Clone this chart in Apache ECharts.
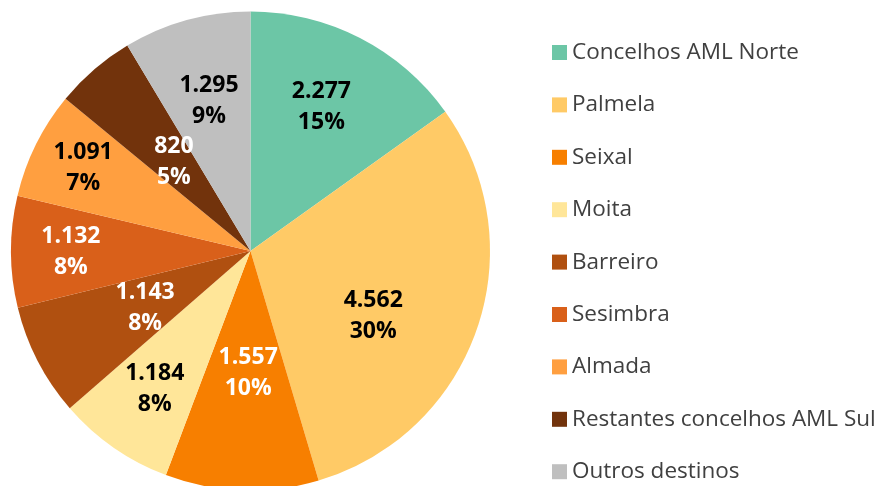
<!DOCTYPE html>
<html>
<head>
<meta charset="utf-8">
<script src="https://cdn.jsdelivr.net/npm/echarts@6/dist/echarts.min.js"></script>
<style>
html,body{margin:0;padding:0;background:#fff;}
#chart{width:882px;height:486px;}
</style>
</head>
<body>
<div id="chart"></div>
<script>
// ---- data ----
const categories = ["Concelhos AML Norte","Palmela","Seixal","Moita","Barreiro","Sesimbra","Almada","Restantes concelhos AML Sul","Outros destinos"];
const values = [2277, 4562, 1557, 1184, 1143, 1132, 1091, 820, 1295];

// ---- styling ----
const colors = ["#6CC6A6","#FFCA66","#F77F00","#FFE699","#B05010","#D9601A","#FF9F40","#72330C","#BFBFBF"];
const labelColors = ["#000","#000","#fff","#000","#fff","#fff","#000","#fff","#000"];
// label placement: [fraction of radius, angle shift in degrees]
const labelPlacement = [[0.67,-1],[0.58,9],[0.51,-1],[0.70,0],[0.50,-1],[0.75,0],[0.78,0],[0.49,0],[0.65,0]];

const cx = 250.5, cy = 251, R = 239.5;
const total = values.reduce((a,b)=>a+b,0);
const mids = [];
let acc = 0;
values.forEach(v => { mids.push((acc + v/2)/total*360); acc += v; });

function fmtNum(v){ return String(v).replace(/\B(?=(\d{3})+(?!\d))/g, '.'); }

const chart = echarts.init(document.getElementById('chart'), null, {renderer:'canvas'});
chart.setOption({
  animation:false,
  color: colors,
  legend: {
    orient:'vertical',
    left:552, top:41,
    padding:0,
    itemWidth:15, itemHeight:15,
    itemGap:29.4,
    icon:'rect',
    textStyle:{fontFamily:'Open Sans', fontSize:22.5, color:'#404040', lineHeight:22, padding:[0,0,0,0]},
    data: categories
  },
  series:[{
    type:'pie',
    center:[cx, cy],
    radius:[0, R],
    startAngle:90,
    clockwise:true,
    avoidLabelOverlap:false,
    label:{
      show:true,
      position:'inside',
      fontFamily:'Open Sans',
      fontWeight:'bold',
      fontSize:23,
      lineHeight:31,
      formatter: p => fmtNum(p.value) + '\n' + Math.round(p.value/total*100) + '%'
    },
    labelLine:{show:false},
    labelLayout: function(params){
      const i = params.dataIndex;
      const a = (mids[i] + labelPlacement[i][1]) * Math.PI/180;
      const r = R * labelPlacement[i][0];
      return {x: cx + r*Math.sin(a), y: cy - r*Math.cos(a), align:'center', verticalAlign:'middle'};
    },
    emphasis:{disabled:true},
    data: categories.map((c,i)=>({name:c, value:values[i], label:{color:labelColors[i]}}))
  }]
});
</script>
</body>
</html>
